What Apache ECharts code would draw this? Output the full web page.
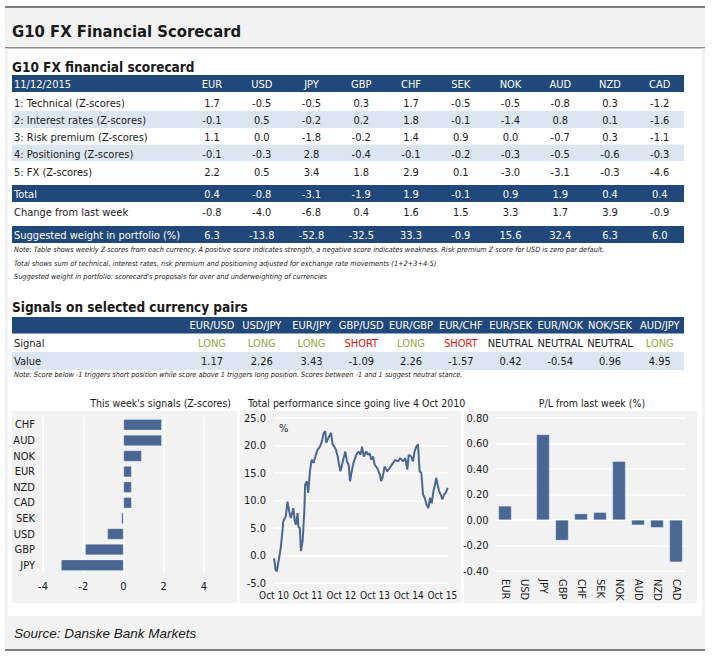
<!DOCTYPE html>
<html><head><meta charset="utf-8">
<script src="https://cdn.jsdelivr.net/npm/echarts@6/dist/echarts.min.js"></script>
<style>html,body{margin:0;padding:0;background:#fff}#c{width:717px;height:657px}</style>
</head><body><div id="c"></div>
<script>
// ---------- DATA ----------
const currencies = ['EUR','USD','JPY','GBP','CHF','SEK','NOK','AUD','NZD','CAD'];
const rowLabels = ['1: Technical (Z-scores)','2: Interest rates (Z-scores)','3: Risk premium (Z-scores)','4: Positioning (Z-scores)','5: FX (Z-scores)'];
const technical   = [1.7,-0.5,-0.5,0.3,1.7,-0.5,-0.5,-0.8,0.3,-1.2];
const interest    = [-0.1,0.5,-0.2,0.2,1.8,-0.1,-1.4,0.8,0.1,-1.6];
const riskPremium = [1.1,0.0,-1.8,-0.2,1.4,0.9,0.0,-0.7,0.3,-1.1];
const positioning = [-0.1,-0.3,2.8,-0.4,-0.1,-0.2,-0.3,-0.5,-0.6,-0.3];
const fxScore     = [2.2,0.5,3.4,1.8,2.9,0.1,-3.0,-3.1,-0.3,-4.6];
const totalScore  = [0.4,-0.8,-3.1,-1.9,1.9,-0.1,0.9,1.9,0.4,0.4];
const changeWeek  = [-0.8,-4.0,-6.8,0.4,1.6,1.5,3.3,1.7,3.9,-0.9];
const weightPct   = [6.3,-13.8,-52.8,-32.5,33.3,-0.9,15.6,32.4,6.3,6.0];

const pairs = ['EUR/USD','USD/JPY','EUR/JPY','GBP/USD','EUR/GBP','EUR/CHF','EUR/SEK','EUR/NOK','NOK/SEK','AUD/JPY'];
const pairSignals = ['LONG','LONG','LONG','SHORT','LONG','SHORT','NEUTRAL','NEUTRAL','NEUTRAL','LONG'];
const pairValues = [1.17,2.26,3.43,-1.09,2.26,-1.57,0.42,-0.54,0.96,4.95];

const signalCats = ['CHF','AUD','NOK','EUR','NZD','CAD','SEK','USD','GBP','JPY'];
const signalVals = [1.9,1.9,0.9,0.4,0.4,0.4,-0.1,-0.8,-1.9,-3.1];

// months since Oct 2010
const perfMonths = [0,0.6,1.0,1.8,2.4,3.0,3.3,4.2,4.8,5.4,6.0,6.9,7.4,7.8,8.4,8.7,9.2,9.6,10.2,10.8,11.1,11.7,12.2,12.8,13.4,14.1,14.9,15.5,16.4,17.1,17.7,18.3,18.6,19.4,20.3,20.9,21.5,22.1,22.7,23.2,23.7,24.5,25.4,26.0,26.6,27.1,27.7,28.3,29.3,30.1,30.8,31.4,32.0,32.9,33.5,34.1,34.7,35.3,35.9,36.8,37.7,38.2,38.8,39.4,40.3,41.2,42.4,43.2,44.2,45.0,46.0,46.8,47.5,48.0,48.9,49.5,50.1,50.7,51.3,51.9,52.5,53.1,53.7,54.4,55.0,55.6,56.2,56.8,57.4,57.8,58.3,58.8,59.4,60.0,60.6,61.2,61.9];
const perfValues = [-0.5,-2.6,-2.9,-0.5,1.4,4.4,6.2,7.1,9.8,8.0,6.8,8.6,6.2,5.6,7.7,5.2,5.0,0.8,2.6,8.0,12.9,13.5,11.4,15.3,17.4,16.8,18.3,19.2,19.8,20.8,22.3,22.6,20.5,21.4,22.3,20.2,19.8,19.2,18.0,16.5,15.3,17.1,18.9,17.1,16.5,13.5,15.3,16.8,18.3,18.9,18.3,19.8,18.0,18.9,18.3,18.6,17.4,18.0,16.5,15.9,14.7,13.5,14.4,16.2,15.3,15.9,16.8,17.4,17.1,17.7,17.1,17.7,15.6,18.3,18.0,17.1,18.9,19.8,20.2,15.3,15.0,11.1,10.5,9.2,8.6,10.5,9.5,11.7,12.9,14.1,12.9,11.7,11.1,10.2,11.1,11.4,12.3];

const plCats = ['EUR','USD','JPY','GBP','CHF','SEK','NOK','AUD','NZD','CAD'];
const plVals = [0.11,0.00,0.67,-0.16,0.05,0.06,0.46,-0.04,-0.06,-0.33];

// ---------- STYLE ----------
const NARROW = '"Liberation Sans Narrow","Arial Narrow","DejaVu Sans Condensed",sans-serif';
const DARK = '#21487b', LIGHT = '#dce6f1', BAR = '#4a6794', PANEL = '#f2f2f2';
const colX = i => 212 + 49.75 * i;
const els = [];
function rect(x, y, w, h, fill, z) { els.push({type:'rect', z: z==null?-5:z, shape:{x, y, width:w, height:h}, style:{fill}, silent:true}); }
function txt(x, y, s, o) {
  o = o || {};
  const font = (o.style||'normal') + ' ' + (o.weight||'normal') + ' ' + (o.size||11) + 'px ' + (o.family||NARROW);
  els.push({type:'text', z:5, x, y, silent:true, style:{text:s, fill:o.color||'#1a1a1a', font,
    textAlign:o.align||'left', align:o.align||'left', textVerticalAlign:'middle', verticalAlign:'middle'}});
}

// frame
rect(5, 6, 700, 2, '#7f7f7f');
rect(5, 8, 700, 39, PANEL);
rect(5, 47, 700, 1.5, '#8c8c8c');
rect(5, 48.5, 3, 568, PANEL);
rect(702, 48.5, 3, 568, PANEL);
txt(12, 31, 'G10 FX Financial Scorecard', {weight:'bold', size:16.5});

// table 1
txt(12, 67, 'G10 FX financial scorecard', {weight:'bold', size:13.5});
rect(12, 75, 672, 17, DARK);
txt(14, 84, '11/12/2015', {color:'#fff'});
currencies.forEach((c,i)=>txt(colX(i), 84, c, {color:'#fff', align:'center'}));
const rows = [technical, interest, riskPremium, positioning, fxScore];
const rowY = [103, 120, 137, 154.5, 172.5];
rect(12, 111, 672, 17, LIGHT);
rect(12, 144.5, 672, 16.5, LIGHT);
rows.forEach((r,k)=>{
  txt(14, rowY[k], rowLabels[k]);
  r.forEach((v,i)=>txt(colX(i), rowY[k], v.toFixed(1), {align:'center'}));
});
rect(12, 185, 672, 17, DARK);
txt(14, 194, 'Total', {color:'#fff'});
totalScore.forEach((v,i)=>txt(colX(i), 194, v.toFixed(1), {color:'#fff', align:'center'}));
txt(14, 212, 'Change from last week');
changeWeek.forEach((v,i)=>txt(colX(i), 212, v.toFixed(1), {align:'center'}));
rect(12, 226, 672, 17, DARK);
txt(14, 235, 'Suggested weight in portfolio (%)', {color:'#fff'});
weightPct.forEach((v,i)=>txt(colX(i), 235, v.toFixed(1), {color:'#fff', align:'center'}));
const note = {style:'italic', size:7.3};
txt(14, 249.5, 'Note: Table shows weekly Z-scores from each currency. A positive score indicates strength, a negative score indicates weakness. Risk premium Z-score for USD is zero par default.', note);
txt(14, 263, 'Total shows sum of technical, interest rates, risk premium and positioning adjusted for exchange rate movements (1+2+3+4-5)', note);
txt(14, 276.5, "Suggested weight in portfolio: scorecard's proposals for over and underweighting of currencies", note);

// table 2
txt(12, 307, 'Signals on selected currency pairs', {weight:'bold', size:13.5});
rect(12, 317, 672, 16.5, DARK);
pairs.forEach((p,i)=>txt(colX(i), 325.5, p, {color:'#fff', align:'center'}));
txt(14, 343, 'Signal');
const sigColor = {LONG:'#9aa545', SHORT:'#e01010', NEUTRAL:'#1a1a1a'};
pairSignals.forEach((s,i)=>txt(colX(i), 343, s, {color:sigColor[s], align:'center'}));
rect(12, 352, 672, 18, LIGHT);
txt(14, 361, 'Value');
pairValues.forEach((v,i)=>txt(colX(i), 361, v.toFixed(2), {align:'center'}));
txt(14, 374.5, 'Note: Score below -1 triggers short position while score above 1 triggers long position. Scores between -1 and 1 suggest neutral stance.', note);

// panels
rect(12, 411, 225, 192, PANEL, -10);
rect(240, 411, 221, 192, PANEL, -10);
rect(464, 411, 233, 192, PANEL, -10);
txt(231, 403, "This week's signals (Z-scores)", {align:'right', size:10.5});
txt(248, 403, 'Total performance since going live 4 Oct 2010', {size:10.5});
txt(592, 403, 'P/L from last week (%)', {align:'center', size:10.5});
txt(279, 428, '%', {size:11});

// footer
rect(5, 616, 700, 33, PANEL);
rect(5, 649, 700, 2, '#7f7f7f');
txt(14, 633, 'Source: Danske Bank Markets', {style:'italic', size:13.5, family:'"Liberation Sans",sans-serif'});

const axLab = {fontFamily: NARROW, fontSize: 11, color:'#1a1a1a'};
const white = {show:true, lineStyle:{color:'#ffffff', width:1.5}};

const chart = echarts.init(document.getElementById('c'), null, {renderer:'svg'});
chart.setOption({
  animation:false,
  graphic:{elements: els},
  grid:[
    {left:43, top:417, width:161, height:156, containLabel:false},
    {left:274, top:418, width:174, height:165, containLabel:false},
    {left:495.5, top:418, width:190, height:153, containLabel:false}
  ],
  xAxis:[
    {gridIndex:0, type:'value', min:-4, max:4, interval:2, splitLine:white,
     axisLine:{show:false}, axisTick:{show:false}, axisLabel:Object.assign({margin:8}, axLab)},
    {gridIndex:1, type:'value', min:0, max:62, interval:12, splitLine:{show:false},
     axisLine:{show:false}, axisTick:{show:false},
     axisLabel:Object.assign({}, axLab, {fontSize:10, margin:7, showMaxLabel:false, formatter:v=> (v%12===0) ? 'Oct ' + (10 + v/12) : ''})},
    {gridIndex:2, type:'category', data:plCats, splitLine:{show:false},
     axisLine:{show:false}, axisTick:{show:false}, axisLabel:Object.assign({rotate:-90, margin:8}, axLab)}
  ],
  yAxis:[
    {gridIndex:0, type:'category', data:signalCats, inverse:true,
     axisLine:{show:false}, axisTick:{show:false}, axisLabel:Object.assign({margin:8}, axLab)},
    {gridIndex:1, type:'value', min:-5, max:25, interval:5, splitLine:white,
     axisLine:{show:false}, axisTick:{show:false}, axisLabel:Object.assign({margin:8, formatter:v=>v.toFixed(1)}, axLab)},
    {gridIndex:2, type:'value', min:-0.4, max:0.8, interval:0.2, splitLine:white,
     axisLine:{show:false}, axisTick:{show:false}, axisLabel:Object.assign({margin:7, formatter:v=>v.toFixed(2)}, axLab)}
  ],
  series:[
    {type:'bar', xAxisIndex:0, yAxisIndex:0, data:signalVals, barWidth:11,
     itemStyle:{color:BAR, borderColor:'rgba(255,255,255,0.5)', borderWidth:0.5}},
    {type:'line', xAxisIndex:1, yAxisIndex:1, data:perfMonths.map((m,i)=>[m, perfValues[i]]),
     showSymbol:false, lineStyle:{color:BAR, width:2}, itemStyle:{color:BAR}},
    {type:'bar', xAxisIndex:2, yAxisIndex:2, data:plVals, barWidth:13,
     itemStyle:{color:BAR, borderColor:'rgba(255,255,255,0.5)', borderWidth:0.5}}
  ]
});
</script></body></html>
